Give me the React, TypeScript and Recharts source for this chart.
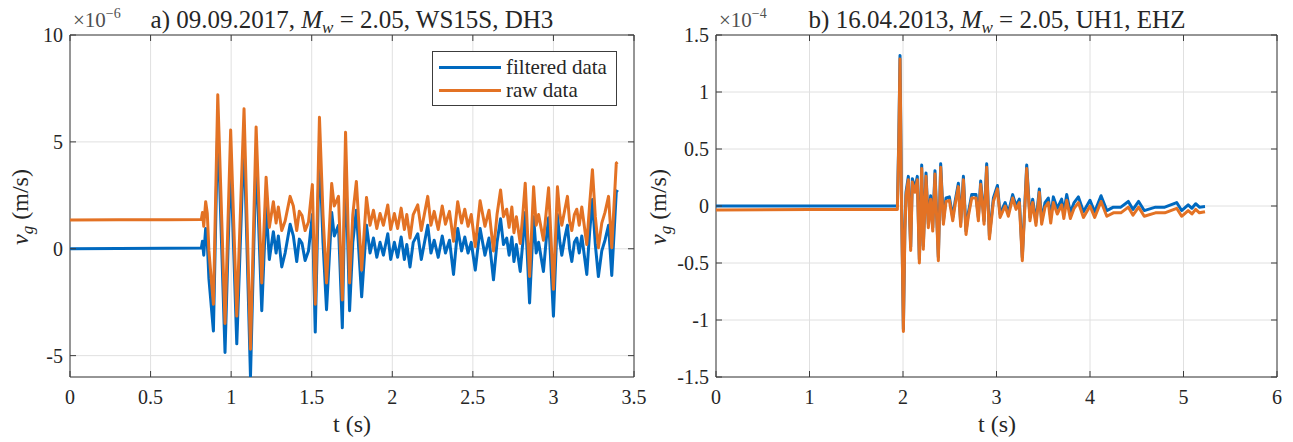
import React from "react";
import {
  LineChart,
  Line,
  XAxis,
  YAxis,
  CartesianGrid,
  ReferenceArea,
  Legend,
} from "recharts";

// ---------- Panel a) 09.09.2017 (values x 1e-6 m/s) ----------
const timeA = [
  0, 0.3, 0.6, 0.815, 0.822, 0.83, 0.842, 0.852, 0.862, 0.89, 0.917, 0.962, 0.997,
  1.035, 1.08, 1.12, 1.155, 1.19, 1.217, 1.237, 1.262, 1.279, 1.293, 1.314, 1.335,
  1.366, 1.386, 1.407, 1.423, 1.44, 1.459, 1.48, 1.504, 1.522, 1.548, 1.57, 1.592,
  1.624, 1.64, 1.666, 1.69, 1.71, 1.735, 1.755, 1.777, 1.79, 1.81, 1.84, 1.862,
  1.883, 1.904, 1.924, 1.945, 1.972, 1.99, 2.013, 2.033, 2.055, 2.075, 2.09, 2.11,
  2.13, 2.158, 2.18, 2.22, 2.24, 2.26, 2.285, 2.31, 2.33, 2.355, 2.38, 2.406, 2.43,
  2.45, 2.47, 2.49, 2.515, 2.545, 2.575, 2.6, 2.628, 2.65, 2.672, 2.69, 2.71, 2.725,
  2.742, 2.755, 2.77, 2.794, 2.81, 2.825, 2.852, 2.877, 2.893, 2.908, 2.938, 2.955,
  2.97, 3.0, 3.025, 3.04, 3.052, 3.07, 3.087, 3.1, 3.114, 3.13, 3.145, 3.16, 3.176,
  3.207, 3.225, 3.242, 3.26, 3.279, 3.3, 3.32, 3.342, 3.362, 3.39, 3.398,
];
const filteredA = [
  0, 0.01, 0.02, 0.03, 0.35, -0.3, 0.95, 0.3, -1.4, -3.85, 5.85, -4.85, 4.2,
  -4.45, 5.2, -6.0, 4.4, -2.9, 2.0, -0.5, 0.8, -0.2, 0.6, -0.85, -0.2,
  1.15, 0.6, -0.6, 0.45, 0.25, -0.55, -0.1, 1.6, -3.9, 4.8, 0.3, -2.85,
  1.7, 0.6, 1.1, -3.7, 4.1, -2.9, 0.3, 1.8, 0.2, -2.25, 1.1, -0.2,
  0.5, -0.4, 0.3, -0.3, 0.7, -0.5, 0.3, -0.4, 0.55, -0.5, 0.2, -0.85,
  0.3, 0.7, -0.5, 1.1, -0.2, 0.4, -0.4, 0.6, -0.2, 0.4, -1.2, 0.95, -0.1,
  0.55, -0.2, 0.3, -1.0, 0.95, -0.3, 0.5, -1.45, 0.3, 1.4, 0.2, 0.5, -0.3,
  0.55, -0.6, 0.2, -1.06, 0.3, 1.7, -2.54, 1.5, -0.2, 0.3, -1.06, 0.4,
  1.45, -3.16, 1.6, 0.3, -0.3, 0.5, 1.1, 0.0, -0.6, 0.3, 0.5, -0.2, 0.6,
  -1.2, 0.8, 2.3, 0.2, -1.3, -0.1, 0.4, 1.1, -1.25, 2.65, 2.75,
];
const rawA = [
  1.35, 1.36, 1.36, 1.37, 1.7, 1.05, 2.2, 1.65, -0.1, -2.6, 7.2, -3.5, 5.55,
  -3.15, 6.55, -4.7, 5.7, -1.6, 3.35, 1.0, 2.2, 1.2, 1.95, 0.85, 1.3,
  2.45, 2.0, 0.85, 1.75, 1.55, 0.85, 1.25, 3.0, -2.6, 6.15, 1.6, -1.6,
  3.05, 2.0, 2.45, -2.4, 5.45, -1.6, 1.6, 3.15, 1.5, -1.0, 2.4, 1.1,
  1.8, 0.95, 1.65, 1.1, 2.05, 0.9, 1.65, 0.95, 1.9, 0.9, 1.6, 0.5,
  1.6, 2.05, 0.85, 2.45, 1.1, 1.75, 0.9, 2.0, 1.15, 1.75, 0.35, 2.2, 1.2,
  1.85, 1.05, 1.6, 0.1, 2.25, 1.05, 1.8, -0.1, 1.6, 2.75, 1.5, 1.85, 1.0,
  1.95, 0.75, 1.5, 0.25, 1.6, 3.07, -1.3, 2.9, 1.1, 1.6, 0.4, 1.7,
  2.85, -1.9, 2.9, 1.6, 1.1, 1.8, 2.45, 1.3, 0.85, 1.6, 1.85, 1.1, 1.95,
  0.2, 2.1, 3.7, 1.5, 0.05, 1.2, 1.7, 2.45, 0.05, 4.0, 4.05,
];
const ticksAX = [0, 0.5, 1, 1.5, 2, 2.5, 3, 3.5];
const ticksAY = [-5, 0, 5, 10];

// ---------- Panel b) 16.04.2013 (values x 1e-4 m/s) ----------
const timeB = [
  0, 1.0, 1.94, 1.955, 1.968, 1.985, 2.004, 2.02, 2.032, 2.057, 2.082, 2.1, 2.128,
  2.153, 2.175, 2.2, 2.217, 2.246, 2.271, 2.296, 2.318, 2.342, 2.378, 2.403, 2.432,
  2.46, 2.496, 2.532, 2.557, 2.592, 2.617, 2.646, 2.674, 2.699, 2.735, 2.781, 2.806,
  2.831, 2.867, 2.895, 2.924, 2.967, 3.01, 3.038, 3.092, 3.127, 3.173, 3.209, 3.244,
  3.276, 3.323, 3.358, 3.387, 3.422, 3.458, 3.483, 3.519, 3.554, 3.58, 3.608, 3.65,
  3.697, 3.72, 3.751, 3.79, 3.83, 3.876, 3.93, 4.0, 4.05, 4.118, 4.18, 4.25, 4.33,
  4.41, 4.46, 4.52, 4.58, 4.7, 4.8, 4.927, 4.98, 5.05, 5.09, 5.13, 5.17, 5.23,
];
const filteredB = [
  0.0, 0.0, 0.0, 0.6, 1.32, 0.0, -1.08, -0.2, 0.12, 0.26, -0.36, 0.24, 0.15,
  0.26, -0.47, 0.36, -0.35, 0.29, -0.16, 0.09, -0.19, 0.31, -0.45, 0.37, -0.13,
  0.07, 0.08, -0.1, 0.04, 0.2, -0.15, 0.26, -0.22, -0.06, 0.1, 0.1, -0.1,
  0.22, -0.13, 0.37, -0.26, 0.07, 0.18, -0.07, 0.03, -0.06, 0.1, 0.0, 0.06,
  -0.45, 0.36, -0.1, 0.06, -0.14, 0.15, -0.13, 0.03, 0.07, -0.1, 0.08, -0.02,
  0.06, -0.06, 0.1, -0.06, 0.03, 0.08, -0.05, 0.05, -0.05, 0.09, -0.04, -0.01, -0.01,
  0.04, -0.03, 0.04, -0.04, -0.01, -0.01, 0.03, -0.04, 0.01, -0.02, 0.02, -0.01, -0.005,
];
const rawB = [
  -0.035, -0.03, -0.03, 0.57, 1.29, -0.03, -1.1, -0.23, 0.09, 0.23, -0.39, 0.21, 0.12,
  0.23, -0.5, 0.33, -0.38, 0.26, -0.19, 0.06, -0.22, 0.28, -0.48, 0.34, -0.16,
  0.04, 0.05, -0.13, 0.01, 0.17, -0.18, 0.23, -0.25, -0.09, 0.07, 0.07, -0.13,
  0.19, -0.16, 0.34, -0.29, 0.04, 0.15, -0.1, 0.0, -0.09, 0.07, -0.03, 0.03,
  -0.48, 0.33, -0.13, 0.03, -0.17, 0.12, -0.16, -0.01, 0.03, -0.15, 0.03, -0.07,
  0.01, -0.11, 0.05, -0.11, -0.02, 0.03, -0.1, 0.0, -0.1, 0.04, -0.09, -0.06, -0.06,
  -0.01, -0.08, -0.01, -0.09, -0.06, -0.06, -0.02, -0.09, -0.04, -0.07, -0.03, -0.06, -0.05,
];
const ticksBX = [0, 1, 2, 3, 4, 5, 6];
const ticksBY = [-1.5, -1, -0.5, 0, 0.5, 1, 1.5];

const seriesNames = ["filtered data", "raw data"];

// ---------- styling ----------
const FONT = "'Liberation Serif', 'Times New Roman', serif";
const BLUE = "#0069bf";
const ORANGE = "#e37224";
const AXIS = "#3c3c3c";
const TXT = "#262626";
const GRID = "#e0e0e0";
const TICK_LEN = 6;

const dataA = timeA.map((t, i) => ({ t, f: filteredA[i], r: rawA[i] }));
const dataB = timeB.map((t, i) => ({ t, f: filteredB[i], r: rawB[i] }));

const CH = 442;
const MARGIN = { top: 35, right: 16, bottom: 35, left: 0 };
const XAXIS_H = 30;
const YAXIS_W = 70;
const PLOT_H = CH - MARGIN.top - MARGIN.bottom - XAXIS_H;

const makeXTick = (plotH: number) => (props: any) => {
  const { x, y, payload } = props;
  return (
    <g>
      <line x1={x} x2={x} y1={y} y2={y - TICK_LEN} stroke={AXIS} />
      <line x1={x} x2={x} y1={y - plotH} y2={y - plotH + TICK_LEN} stroke={AXIS} />
      <text x={x} y={y + 27} textAnchor="middle" fontSize={20} fontFamily={FONT} fill={TXT}>
        {String(payload.value)}
      </text>
    </g>
  );
};

const makeYTick = (plotW: number) => (props: any) => {
  const { x, y, payload } = props;
  return (
    <g>
      <line x1={x} x2={x + TICK_LEN} y1={y} y2={y} stroke={AXIS} />
      <line x1={x + plotW} x2={x + plotW - TICK_LEN} y1={y} y2={y} stroke={AXIS} />
      <text x={x - 7} y={y + 7} textAnchor="end" fontSize={20} fontFamily={FONT} fill={TXT}>
        {String(payload.value)}
      </text>
    </g>
  );
};

const renderLegend = (props: any) => {
  const items = props.payload || [];
  return (
    <div
      style={{
        width: 185,
        height: 55,
        boxSizing: "border-box",
        border: `1px solid ${AXIS}`,
        background: "#fff",
        padding: "4px 0 0 6px",
        fontFamily: FONT,
        fontSize: 21,
        color: TXT,
      }}
    >
      {items.map((it: any) => (
        <div key={it.value} style={{ display: "flex", alignItems: "center", height: 23 }}>
          <span
            style={{
              display: "inline-block",
              width: 62,
              height: 3,
              background: it.color,
              marginRight: 5,
            }}
          />
          <span>{it.value}</span>
        </div>
      ))}
    </div>
  );
};

type PanelProps = {
  data: any[];
  width: number;
  xDomain: [number, number];
  yDomain: [number, number];
  xTicks: number[];
  yTicks: number[];
  legend?: boolean;
};

const Panel = ({ data, width, xDomain, yDomain, xTicks, yTicks, legend }: PanelProps) => {
  const plotW = width - YAXIS_W - MARGIN.right;
  return (
    <LineChart width={width} height={CH} data={data} margin={MARGIN}>
      <CartesianGrid stroke={GRID} strokeWidth={1} />
      <XAxis
        dataKey="t"
        type="number"
        domain={xDomain}
        ticks={xTicks}
        height={XAXIS_H}
        axisLine={false}
        tickLine={false}
        tickSize={0}
        tickMargin={0}
        interval={0}
        allowDataOverflow
        tick={makeXTick(PLOT_H)}
      />
      <YAxis
        type="number"
        domain={yDomain}
        ticks={yTicks}
        width={YAXIS_W}
        axisLine={false}
        tickLine={false}
        tickSize={0}
        tickMargin={0}
        interval={0}
        allowDataOverflow
        tick={makeYTick(plotW)}
      />
      <ReferenceArea
        x1={xDomain[0]}
        x2={xDomain[1]}
        y1={yDomain[0]}
        y2={yDomain[1]}
        fill="none"
        fillOpacity={0}
        stroke={AXIS}
        strokeWidth={1}
        ifOverflow="visible"
      />
      <Line
        name={seriesNames[0]}
        dataKey="f"
        type="linear"
        stroke={BLUE}
        strokeWidth={3}
        strokeLinejoin="round"
        dot={false}
        activeDot={false}
        isAnimationActive={false}
      />
      <Line
        name={seriesNames[1]}
        dataKey="r"
        type="linear"
        stroke={ORANGE}
        strokeWidth={3}
        strokeLinejoin="round"
        dot={false}
        activeDot={false}
        isAnimationActive={false}
      />
      {legend && (
        <Legend
          layout="vertical"
          align="center"
          verticalAlign="middle"
          wrapperStyle={{ left: 432, top: 51, width: 185 }}
          content={renderLegend}
        />
      )}
    </LineChart>
  );
};

export default function App() {
  const txt = { fontFamily: FONT, fill: TXT } as const;
  return (
    <div
      style={{
        position: "fixed",
        left: 0,
        top: 0,
        width: 1293,
        height: 442,
        background: "#fff",
        overflow: "hidden",
      }}
    >
      <div style={{ position: "absolute", left: 0, top: 0 }}>
        <Panel
          data={dataA}
          width={650}
          xDomain={[0, 3.5]}
          yDomain={[-6, 10]}
          xTicks={ticksAX}
          yTicks={ticksAY}
          legend
        />
      </div>
      <div style={{ position: "absolute", left: 646, top: 0 }}>
        <Panel
          data={dataB}
          width={647}
          xDomain={[0, 6]}
          yDomain={[-1.5, 1.5]}
          xTicks={ticksBX}
          yTicks={ticksBY}
        />
      </div>
      <svg
        width={1293}
        height={442}
        style={{ position: "absolute", left: 0, top: 0, pointerEvents: "none" }}
      >
        {/* exponents */}
        <text x={73} y={27} fontSize={21} fontFamily={FONT} fill="#505050">
          ×10<tspan dy={-9} fontSize={14}>−6</tspan>
        </text>
        <text x={719} y={27} fontSize={21} fontFamily={FONT} fill="#505050">
          ×10<tspan dy={-9} fontSize={14}>−4</tspan>
        </text>
        {/* titles */}
        <text x={352} y={28} textAnchor="middle" fontSize={25} {...txt}>
          {"a) 09.09.2017, "}
          <tspan fontStyle="italic">M</tspan>
          <tspan fontStyle="italic" fontSize={17} dy={5}>w</tspan>
          <tspan dy={-5}>{" = 2.05, WS15S, DH3"}</tspan>
        </text>
        <text x={997} y={28} textAnchor="middle" fontSize={25} {...txt}>
          {"b) 16.04.2013, "}
          <tspan fontStyle="italic">M</tspan>
          <tspan fontStyle="italic" fontSize={17} dy={5}>w</tspan>
          <tspan dy={-5}>{" = 2.05, UH1, EHZ"}</tspan>
        </text>
        {/* x labels */}
        <text x={352} y={432} textAnchor="middle" fontSize={24} {...txt}>
          t (s)
        </text>
        <text x={997} y={432} textAnchor="middle" fontSize={24} {...txt}>
          t (s)
        </text>
        {/* y labels */}
        <text transform="translate(28,207) rotate(-90)" textAnchor="middle" fontSize={24} {...txt}>
          <tspan fontStyle="italic">v</tspan>
          <tspan fontStyle="italic" fontSize={17} dy={5}>g</tspan>
          <tspan dy={-5}>{" (m/s)"}</tspan>
        </text>
        <text transform="translate(666,207) rotate(-90)" textAnchor="middle" fontSize={24} {...txt}>
          <tspan fontStyle="italic">v</tspan>
          <tspan fontStyle="italic" fontSize={17} dy={5}>g</tspan>
          <tspan dy={-5}>{" (m/s)"}</tspan>
        </text>
      </svg>
    </div>
  );
}
